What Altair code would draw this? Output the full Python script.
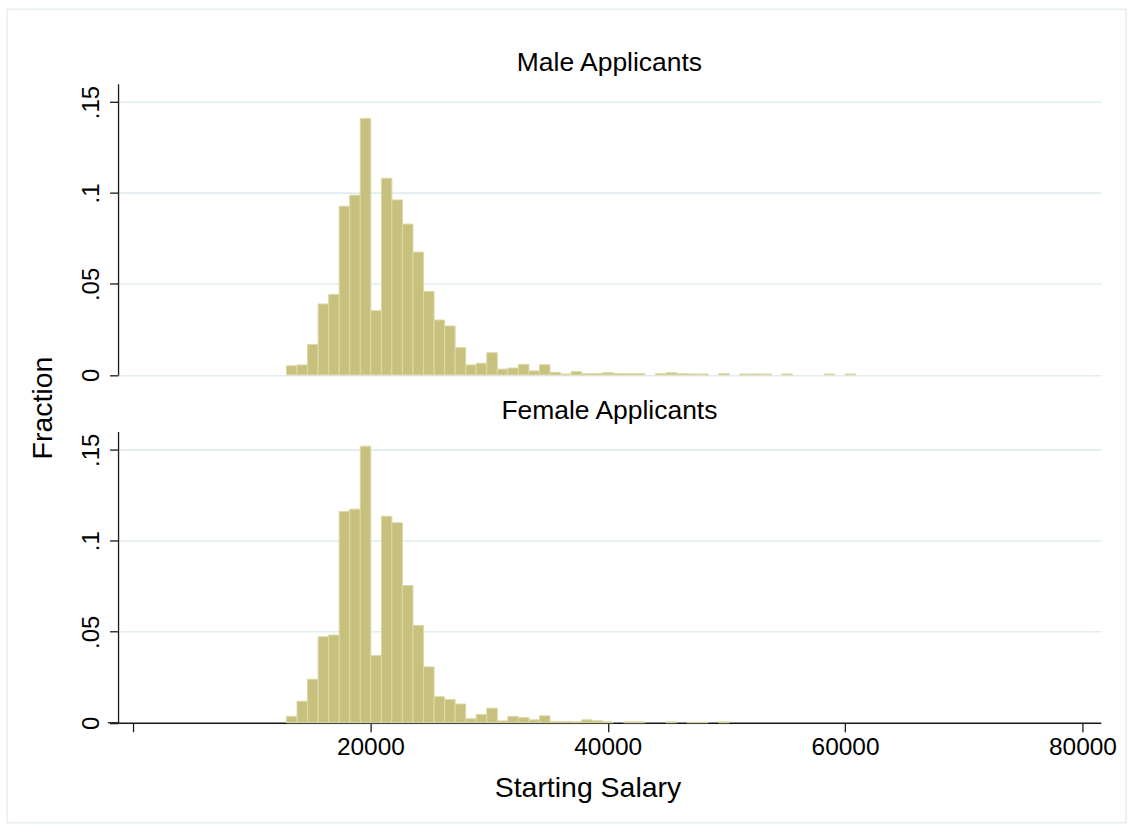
import altair as alt
import pandas as pd

FONT = "Liberation Sans"
INK = "#1a1a1a"
BAR_FILL = "#c8c17d"
BAR_EDGE = "#ddd8a9"
GRID = "#e1ecf0"

# Histogram bins (starting salary, dollars)
bin_start = 12930
bin_width = 888.3
n_bins = 54

# Fraction of applicants falling in each bin
male_frac = [
    0.0050, 0.0055, 0.0168, 0.0390, 0.0442, 0.0927, 0.0988, 0.1410, 0.0353, 0.1081,
    0.0962, 0.0829, 0.0675, 0.0459, 0.0302, 0.0269, 0.0150, 0.0055, 0.0064, 0.0122,
    0.0032, 0.0038, 0.0058, 0.0022, 0.0056, 0.0014, 0.0005, 0.0018, 0.0007, 0.0008,
    0.0012, 0.0008, 0.0007, 0.0007, 0.0000, 0.0007, 0.0012, 0.0007, 0.0005, 0.0005,
    0.0000, 0.0007, 0.0000, 0.0005, 0.0005, 0.0005, 0.0000, 0.0005, 0.0000, 0.0000,
    0.0000, 0.0005, 0.0000, 0.0005,
]
female_frac = [
    0.0035, 0.0118, 0.0239, 0.0473, 0.0482, 0.1161, 0.1174, 0.1520, 0.0369, 0.1135,
    0.1099, 0.0754, 0.0535, 0.0307, 0.0143, 0.0128, 0.0103, 0.0022, 0.0045, 0.0080,
    0.0010, 0.0035, 0.0028, 0.0016, 0.0038, 0.0007, 0.0007, 0.0005, 0.0016, 0.0011,
    0.0005, 0.0000, 0.0005, 0.0005, 0.0000, 0.0000, 0.0005, 0.0000, 0.0003, 0.0003,
    0.0000, 0.0005, 0.0000, 0.0000, 0.0000, 0.0000, 0.0000, 0.0000, 0.0000, 0.0000,
    0.0000, 0.0000, 0.0000, 0.0000,
]

panel_titles = ["Male Applicants", "Female Applicants"]
x_title = "Starting Salary"
y_title = "Fraction"

x_domain = [-1262, 81548]
y_domain = [0, 0.16]
x_ticks = [0, 20000, 40000, 60000, 80000]
y_ticks = [0, 0.05, 0.1, 0.15]

W = 984.4
H = 291.6


def bins_frame(frac):
    lo = [bin_start + i * bin_width for i in range(n_bins)]
    hi = [v + bin_width for v in lo]
    return pd.DataFrame({"lo": lo, "hi": hi, "frac": frac})


def y_axis(with_title):
    kw = dict(
        values=y_ticks,
        labelExpr="datum.value == 0 ? '0' : substring(format(datum.value, '.2~f'), 1)",
        labelAngle=-90,
        labelAlign="center",
        labelBaseline="alphabetic",
        labelPadding=11,
        labelFontSize=24,
        tickSize=8.5,
        grid=True,
    )
    if with_title:
        kw.update(
            title=y_title,
            titleAngle=270,
            titleAlign="center",
            titleBaseline="alphabetic",
            titleX=-66.6,
            titleY=324.3,
            titleFontSize=28.5,
        )
    else:
        kw.update(title=None)
    return alt.Axis(**kw)


x_axis = alt.Axis(
    values=x_ticks,
    labelExpr="datum.value == 0 ? '' : format(datum.value, 'd')",
    labelFontSize=24.5,
    labelPadding=4,
    tickSize=9,
    grid=False,
    title=x_title,
    titleFontSize=28.5,
    titleAlign="center",
    titleBaseline="alphabetic",
    titleX=470.2,
    titleY=73.7,
)


def panel(frac, title, show_x, with_ytitle):
    bars = (
        alt.Chart(bins_frame(frac))
        .transform_filter("datum.frac > 0")
        .mark_rect(fill=BAR_FILL, stroke=BAR_EDGE, strokeWidth=1)
        .encode(
            x=alt.X("lo:Q", scale=alt.Scale(domain=x_domain, nice=False, zero=False),
                    axis=x_axis if show_x else None),
            x2="hi:Q",
            y=alt.Y("frac:Q", scale=alt.Scale(domain=y_domain, nice=False),
                    axis=y_axis(with_ytitle)),
            y2=alt.datum(0),
        )
    )
    label = (
        alt.Chart(alt.Data(values=[{"t": title}]))
        .mark_text(font=FONT, fontSize=26.5, color="black", align="center", baseline="alphabetic")
        .encode(text="t:N", x=alt.value(W / 2), y=alt.value(-12.7))
    )
    layers = [bars, label]
    if show_x:
        # x axis line runs a little past the y axis on the left
        stub = (
            alt.Chart(alt.Data(values=[{}]))
            .mark_rule(color=INK, strokeWidth=1.3)
            .encode(x=alt.value(-10.3), x2=alt.value(0), y=alt.value(H))
        )
        layers.append(stub)
    else:
        # light outline around the whole graph region
        border = (
            alt.Chart(alt.Data(values=[{}]))
            .mark_rect(fillOpacity=0, stroke="#e6edef", strokeWidth=1.5)
            .encode(x=alt.value(-111.3), x2=alt.value(1009.7),
                    y=alt.value(-74.7), y2=alt.value(740.3))
        )
        layers.append(border)
    return alt.layer(*layers).properties(width=W, height=H)


top = panel(male_frac, panel_titles[0], show_x=False, with_ytitle=True)
bottom = panel(female_frac, panel_titles[1], show_x=True, with_ytitle=False)

chart = (
    alt.vconcat(top, bottom, spacing=56.4, bounds="flush")
    .properties(padding={"left": 5.25, "top": 7.25, "right": 6.25, "bottom": 7.25},
                background="white")
    .configure_view(stroke="transparent")
    .configure_axis(
        labelFont=FONT,
        titleFont=FONT,
        labelColor="black",
        titleColor="black",
        titleFontWeight="normal",
        domainColor=INK,
        domainWidth=1.3,
        tickColor=INK,
        tickWidth=1.3,
        gridColor=GRID,
        gridWidth=1.6,
    )
)

chart.save("out.html", embed_options={"renderer": "svg", "actions": False})
